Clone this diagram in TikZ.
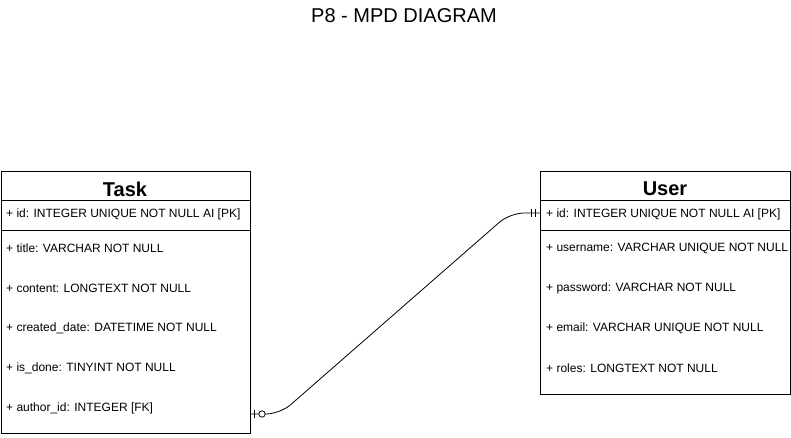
\documentclass[tikz,border=0pt]{standalone}
\usepackage{fontspec}
\setmainfont{Liberation Sans}
\begin{document}
\begin{tikzpicture}[x=1pt,y=-1pt,
  box/.style={draw,line width=1pt,rectangle,inner sep=0pt,anchor=north west},
  sep/.style={line width=1pt},
  rowtxt/.style={anchor=west,inner sep=0pt,font=\fontsize{12}{14}\selectfont},
  ttl/.style={inner sep=0pt,font=\bfseries\fontsize{20}{24}\selectfont},
  conn/.style={line width=0.8pt},
]
\useasboundingbox (0,0) rectangle (791,438);
\node[inner sep=0pt,font=\fontsize{20}{24}\selectfont] (heading) at (404,16) {P8 - MPD DIAGRAM};

% Task entity
\node[box,minimum width=249.5pt,minimum height=262pt] (task) at (0.5,171) {};
\node[ttl] (tasktitle) at (125,189) {Task};
\draw[sep] (0.5,201) -- (250,201);
\draw[sep] (0.5,230) -- (250,230);
\node[rowtxt] (t1) at (6,214) {+ id: INTEGER UNIQUE NOT NULL AI [PK]};
\node[rowtxt] (t2) at (6,248) {+ title: VARCHAR NOT NULL};
\node[rowtxt] (t3) at (6,288) {+ content: LONGTEXT NOT NULL};
\node[rowtxt] (t4) at (6,328) {+ created\_date: DATETIME NOT NULL};
\node[rowtxt] (t5) at (6,368) {+ is\_done: TINYINT NOT NULL};
\node[rowtxt] (t6) at (6,408) {+ author\_id: INTEGER [FK]};

% User entity
\node[box,minimum width=250pt,minimum height=223pt] (user) at (540,171) {};
\node[ttl] (usertitle) at (665,189) {User};
\draw[sep] (540,201) -- (790,201);
\draw[sep] (540,230) -- (790,230);
\node[rowtxt] (u1) at (546,214) {+ id: INTEGER UNIQUE NOT NULL AI [PK]};
\node[rowtxt] (u2) at (546,248) {+ username: VARCHAR UNIQUE NOT NULL};
\node[rowtxt] (u3) at (546,288) {+ password: VARCHAR NOT NULL};
\node[rowtxt] (u4) at (546,328) {+ email: VARCHAR UNIQUE NOT NULL};
\node[rowtxt] (u5) at (546,368) {+ roles: LONGTEXT NOT NULL};

% connector
\coordinate (fk) at (task.east |- 0,414);
\coordinate (pk) at (user.west |- 0,213);
\draw[conn,rounded corners=14pt] (fk) -- (280,414) -- (510,213) -- (pk);
% zero-or-one at Task side
\draw[conn] (254,410) -- (254,418);
\draw[conn,fill=white] (262,414) circle (3.2pt);
% exactly-one at User side
\draw[conn] (531,209) -- (531,217);
\draw[conn] (535,209) -- (535,217);
\end{tikzpicture}
\end{document}
